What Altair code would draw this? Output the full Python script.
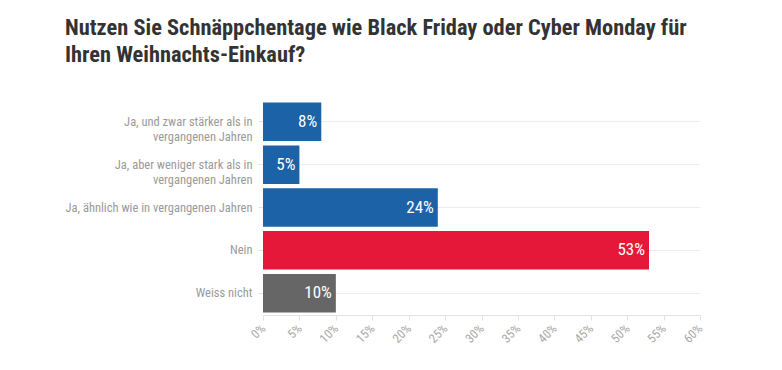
import altair as alt
import pandas as pd

categories = [
    "Ja, und zwar stärker als in\nvergangenen Jahren",
    "Ja, aber weniger stark als in\nvergangenen Jahren",
    "Ja, ähnlich wie in vergangenen Jahren",
    "Nein",
    "Weiss nicht",
]
values = [8, 5, 24, 53, 10]
colors = ["#1c62a6", "#1c62a6", "#1c62a6", "#e5183a", "#666666"]
labels = ["8%", "5%", "24%", "53%", "10%"]
x_ticks = list(range(0, 61, 5))

df = pd.DataFrame({"cat": categories, "val": values, "col": colors, "lab": labels})

FONT = "Roboto Condensed, Liberation Sans Narrow, DejaVu Sans Condensed, Roboto, sans-serif"

y_enc = alt.Y(
    "cat:N",
    sort=categories,
    title=None,
    scale=alt.Scale(paddingInner=0.1, paddingOuter=0.06),
    axis=alt.Axis(
        labelColor="#9a9a9a",
        labelFont=FONT,
        labelFontSize=12.5,
        labelLimit=250,
        labelLineHeight=15,
        labelPadding=6,
        tickColor="#e3e3e3",
        tickSize=5,
        grid=True,
        gridColor="#ececec",
        domain=False,
    ),
)

x_enc = alt.X(
    "val:Q",
    title=None,
    scale=alt.Scale(domain=[0, 60], nice=False),
    axis=alt.Axis(
        values=x_ticks,
        labelExpr="datum.value + '%'",
        labelAngle=-45,
        labelColor="#a8a8a8",
        labelFont=FONT,
        labelFontSize=12.5,
        labelAlign="right",
        labelBaseline="middle",
        labelPadding=6,
        labelOverlap=False,
        tickColor="#e3e3e3",
        tickSize=5,
        domainColor="#e3e3e3",
        grid=False,
    ),
)

base = alt.Chart(df).encode(y=y_enc, x=x_enc)

bars = base.mark_bar().encode(
    color=alt.Color("col:N", scale=None, legend=None),
)

text = base.mark_text(
    align="right", dx=-4, color="white", font=FONT, fontSize=17, baseline="middle"
).encode(
    text="lab:N",
)

chart = (
    alt.layer(bars, text)
    .properties(
        width=437,
        height=215,
        autosize=alt.AutoSizeParams(type="none"),
        padding={"left": 255, "top": 92, "right": 30, "bottom": 50},
        title=alt.TitleParams(
            text=["Nutzen Sie Schnäppchentage wie Black Friday oder Cyber Monday für",
                  "Ihren Weihnachts-Einkauf?"],
            anchor="start",
            frame="group",
            font=FONT,
            fontSize=22.4,
            fontWeight="bold",
            color="#333333",
            lineHeight=27,
            dx=-198,
            offset=34,
        ),
    )
    .configure(lineBreak="\n")
    .configure_view(strokeWidth=0, stroke="transparent")
    .configure_axis(labelOverlap=False)
)

chart.save("out.html", embed_options={"renderer": "svg", "actions": False})
